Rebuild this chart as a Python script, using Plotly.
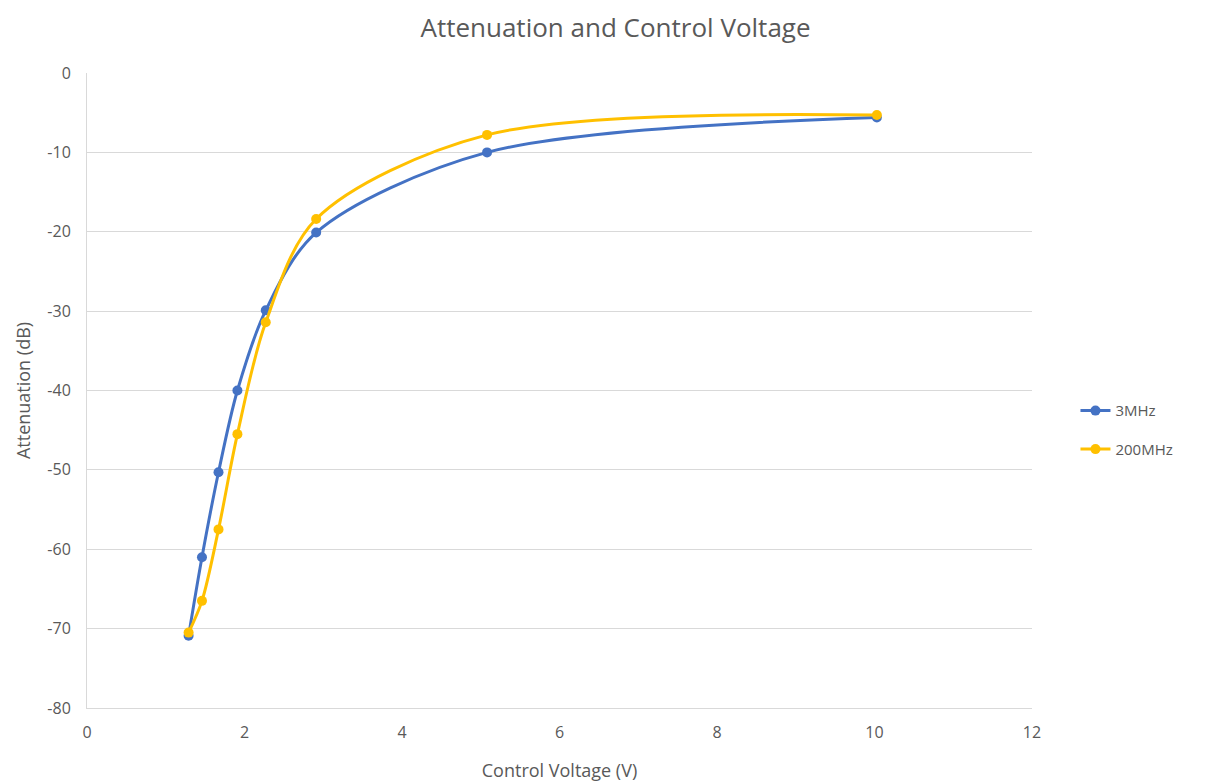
import plotly.graph_objects as go

# Control voltage (V) and attenuation (dB)
voltage = [1.29, 1.46, 1.67, 1.91, 2.27, 2.91, 5.08, 10.03]
atten_3mhz = [-70.9, -61.0, -50.3, -40.0, -29.9, -20.1, -10.0, -5.6]
atten_200mhz = [-70.5, -66.5, -57.5, -45.5, -31.4, -18.4, -7.8, -5.3]

x_ticks = [0, 2, 4, 6, 8, 10, 12]
y_ticks = [0, -10, -20, -30, -40, -50, -60, -70, -80]

blue = '#4472C4'
gold = '#FFC000'
grey_txt = '#595959'

fig = go.Figure()
fig.add_trace(go.Scatter(x=voltage, y=atten_3mhz, name='3MHz', mode='lines+markers',
                         line=dict(color=blue, width=3, shape='spline', smoothing=0.9),
                         marker=dict(color=blue, size=10), legendgroup='a'))
fig.add_trace(go.Scatter(x=voltage, y=atten_200mhz, name='200MHz', mode='lines+markers',
                         line=dict(color=gold, width=3, shape='spline', smoothing=0.9),
                         marker=dict(color=gold, size=10), legendgroup='b'))

# page body adds ~8px offset, margins compensate
fig.update_layout(
    width=1215, height=783,
    paper_bgcolor='white', plot_bgcolor='white',
    font=dict(family='Open Sans, sans-serif', color=grey_txt, size=14),
    title=dict(text='Attenuation and Control Voltage', x=0.5, xanchor='center',
               y=0.975, yanchor='middle', font=dict(size=26, color=grey_txt)),
    margin=dict(l=79, r=191, t=65, b=83),
    legend=dict(x=1.046, y=0.438, xanchor='left', yanchor='middle',
                tracegroupgap=16, font=dict(size=15, color=grey_txt)),
)
fig.update_xaxes(range=[0, 12], tickvals=x_ticks, ticktext=[str(v) for v in x_ticks],
                 showgrid=False, zeroline=False,
                 showline=True, linecolor='#D9D9D9', linewidth=1,
                 ticklabelstandoff=10,
                 title=dict(text='Control Voltage (V)', standoff=22, font=dict(size=18)),
                 tickfont=dict(size=16))
fig.update_yaxes(range=[-80, 0], tickvals=y_ticks, ticktext=[str(v) for v in y_ticks],
                 showgrid=True, gridcolor='#D9D9D9',
                 zeroline=False, showline=True, linecolor='#D9D9D9', linewidth=1,
                 ticklabelstandoff=12,
                 title=dict(text='Attenuation (dB)', standoff=12, font=dict(size=18)),
                 tickfont=dict(size=16))

fig.write_html('out.html')
